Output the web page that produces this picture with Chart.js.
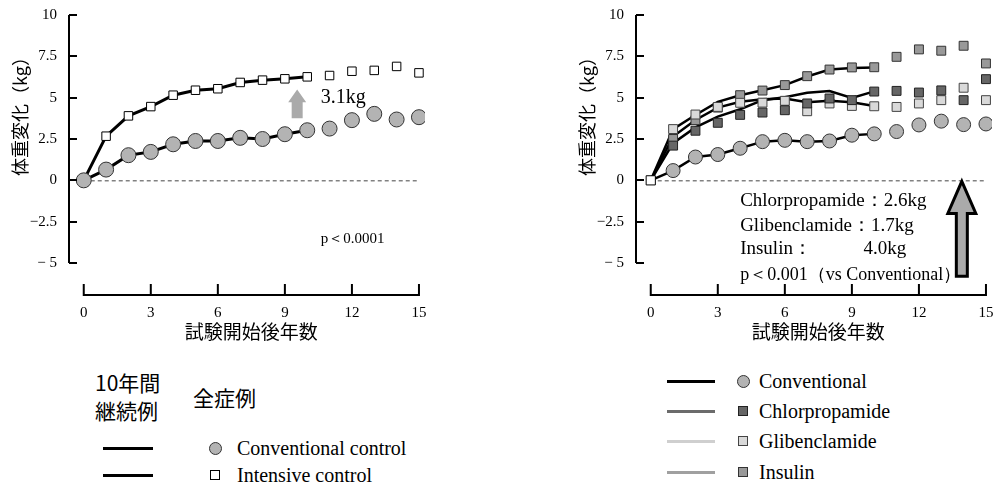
<!DOCTYPE html>
<html>
<head>
<meta charset="utf-8">
<script src="https://cdn.jsdelivr.net/npm/chart.js@4.4.0/dist/chart.umd.min.js"></script>
<style>
  body { margin: 0; background: #fff; width: 998px; height: 485px; position: relative; overflow: hidden; }
  canvas { position: absolute; top: 0; }
  #left { left: 0; }
  #right { left: 567px; }
  .t { position: absolute; white-space: nowrap; color: #000; }
  .jp { font-family: "Noto Sans CJK JP", sans-serif; font-size: 21px; line-height: 28px; }
  .en { font-family: "Liberation Serif", serif; font-size: 20px; line-height: 24px; }
  .ln { position: absolute; height: 3px; }
  .mk { position: absolute; box-sizing: border-box; }
</style>
</head>
<body>
<canvas id="left" width="440" height="345"></canvas>
<canvas id="right" width="431" height="345"></canvas>

<!-- left legend -->
<div class="t jp" style="left:95px;top:368px">10年間<br>継続例</div>
<div class="t jp" style="left:193px;top:383px">全症例</div>
<div class="ln" style="left:103px;top:447px;width:50px;background:#000"></div>
<div class="ln" style="left:103px;top:474px;width:50px;background:#000"></div>
<div class="mk" style="left:209px;top:442px;width:13px;height:13px;border-radius:50%;background:#b3b3b3;border:1px solid #333"></div>
<div class="mk" style="left:210px;top:470px;width:10px;height:10px;background:#fff;border:1px solid #000"></div>
<div class="t en" style="left:237px;top:436px">Conventional control</div>
<div class="t en" style="left:237px;top:463px">Intensive control</div>

<!-- right legend -->
<div class="ln" style="left:667px;top:380px;width:48px;background:#000"></div>
<div class="ln" style="left:667px;top:410px;width:48px;background:#6b6b6b"></div>
<div class="ln" style="left:667px;top:440px;width:48px;background:#cfcfcf"></div>
<div class="ln" style="left:667px;top:471px;width:48px;background:#a0a0a0"></div>
<div class="mk" style="left:737px;top:375px;width:13px;height:13px;border-radius:50%;background:#b3b3b3;border:1px solid #333"></div>
<div class="mk" style="left:738px;top:406px;width:10px;height:10px;background:#666;border:1px solid #222"></div>
<div class="mk" style="left:738px;top:436px;width:10px;height:10px;background:#d9d9d9;border:1px solid #444"></div>
<div class="mk" style="left:738px;top:467px;width:10px;height:10px;background:#999;border:1px solid #333"></div>
<div class="t en" style="left:759px;top:369px">Conventional</div>
<div class="t en" style="left:759px;top:399px">Chlorpropamide</div>
<div class="t en" style="left:759px;top:429px">Glibenclamide</div>
<div class="t en" style="left:759px;top:460px">Insulin</div>

<script>
// axes
const xTicks = [0, 3, 6, 9, 12, 15];
const yTicks = [-5, -2.5, 0, 2.5, 5, 7.5, 10];
const yTickLabels = ['− 5', '−2.5', '0', '2.5', '5', '7.5', '10'];
const xTitle = '試験開始後年数';
const yTitle = '体重変化（kg）';

// left panel: all cases (markers) and 10-year cohort (lines)
const years = [0, 1, 2, 3, 4, 5, 6, 7, 8, 9, 10, 11, 12, 13, 14, 15];
const lineYears = [0, 1, 2, 3, 4, 5, 6, 7, 8, 9, 10];
const convAll = [0, 0.65, 1.52, 1.72, 2.18, 2.38, 2.38, 2.57, 2.5, 2.79, 3.03, 3.13, 3.64, 4.02, 3.68, 3.82];
const intAll = [0, 2.67, 3.9, 4.46, 5.15, 5.45, 5.54, 5.92, 6.06, 6.14, 6.26, 6.34, 6.6, 6.65, 6.89, 6.5];
const conv10 = [0, 0.65, 1.52, 1.72, 2.18, 2.38, 2.38, 2.57, 2.5, 2.79, 3.03];
const int10 = [0, 2.67, 3.9, 4.46, 5.15, 5.45, 5.54, 5.92, 6.06, 6.14, 6.26];

// right panel
const startYear = [0];
const startValue = [0];
const markerYears = [1, 2, 3, 4, 5, 6, 7, 8, 9, 10, 11, 12, 13, 14, 15];
const convMk = [0.59, 1.41, 1.56, 1.94, 2.34, 2.42, 2.34, 2.38, 2.73, 2.81, 2.95, 3.35, 3.58, 3.37, 3.41];
const chlorMk = [2.1, 3.0, 3.48, 3.96, 4.1, 4.24, 4.65, 4.95, 4.85, 5.37, 5.41, 5.31, 5.44, 4.85, 6.12];
const glibMk = [3.1, 3.98, 4.44, 4.69, 4.7, 4.81, 4.18, 4.65, 4.5, 4.48, 4.44, 4.65, 4.85, 5.6, 4.85];
const insMk = [2.5, 3.64, 4.4, 5.15, 5.43, 5.76, 6.3, 6.7, 6.83, 6.84, 7.47, 7.92, 7.84, 8.14, 7.07];
const convLine = [0, 0.59, 1.41, 1.56, 1.94, 2.34, 2.42, 2.34, 2.38, 2.73, 2.81];
const chlorLine = [0, 2.25, 3.2, 3.85, 4.3, 4.85, 5.02, 5.3, 5.4, 4.98, 5.38];
const glibLine = [0, 2.65, 3.65, 4.4, 4.75, 4.9, 4.95, 4.72, 4.82, 4.72, 4.5];
const insLine = [0, 3.1, 3.95, 4.75, 5.15, 5.45, 5.76, 6.28, 6.7, 6.8, 6.82];

const pts = (xs, ys) => xs.map((x, i) => ({ x, y: ys[i] }));

function markers(xs, ys, style, radius, fill, border) {
  return {
    data: pts(xs, ys), showLine: false, pointStyle: style, pointRadius: radius,
    pointBackgroundColor: fill, pointBorderColor: border, pointBorderWidth: 1
  };
}
function line(xs, ys, width) {
  return { data: pts(xs, ys), borderColor: '#000', borderWidth: width, pointRadius: 0, tension: 0 };
}

// scale paddings include ticks.padding, which would shrink the plot area
function noPad(s) {
  s.paddingTop = s.paddingBottom = s.paddingLeft = s.paddingRight = 0;
}

const axesPlugin = {
  id: 'axesPlugin',
  beforeDatasetsDraw(chart) {
    const { ctx, scales: { x, y } } = chart;
    ctx.save();
    ctx.strokeStyle = '#444';
    ctx.lineWidth = 1;
    ctx.setLineDash([4, 3]);
    ctx.beginPath();
    ctx.moveTo(x.getPixelForValue(0), y.getPixelForValue(0) + 0.5);
    ctx.lineTo(x.getPixelForValue(15), y.getPixelForValue(0) + 0.5);
    ctx.stroke();
    ctx.restore();
  },
  afterDraw(chart) {
    const { ctx, chartArea: a, scales: { x, y } } = chart;
    ctx.save();
    ctx.strokeStyle = '#000';
    ctx.lineWidth = 2;
    ctx.beginPath();
    ctx.moveTo(a.left, a.top);
    ctx.lineTo(a.left, a.bottom);
    yTicks.forEach(v => {
      const p = Math.round(y.getPixelForValue(v));
      ctx.moveTo(a.left, p);
      ctx.lineTo(a.left + 8, p);
    });
    const ax = a.bottom + 32;
    ctx.moveTo(x.getPixelForValue(0) - 1, ax);
    ctx.lineTo(x.getPixelForValue(15) + 1, ax);
    xTicks.forEach(v => {
      const p = x.getPixelForValue(v);
      ctx.moveTo(p, ax);
      ctx.lineTo(p, ax - 11);
    });
    ctx.stroke();

    ctx.fillStyle = '#000';
    ctx.font = '19px "Noto Sans CJK JP"';
    ctx.textAlign = 'center';
    ctx.textBaseline = 'middle';
    ctx.fillText(xTitle, x.getPixelForValue(7.5), a.bottom + 69);
    ctx.translate(20, 112);
    ctx.rotate(-Math.PI / 2);
    ctx.font = '18px "Noto Sans CJK JP"';
    ctx.fillText(yTitle, 0, 0);
    ctx.restore();
  }
};

function arrow(ctx, x, yTip, yHead, yBase, headHalf, shaftHalf) {
  ctx.beginPath();
  ctx.moveTo(x, yTip);
  ctx.lineTo(x + headHalf, yHead);
  ctx.lineTo(x + shaftHalf, yHead);
  ctx.lineTo(x + shaftHalf, yBase);
  ctx.lineTo(x - shaftHalf, yBase);
  ctx.lineTo(x - shaftHalf, yHead);
  ctx.lineTo(x - headHalf, yHead);
  ctx.closePath();
}

const leftNotes = {
  id: 'leftNotes',
  afterDatasetsDraw(chart) {
    const { ctx, scales: { x, y } } = chart;
    ctx.save();
    ctx.fillStyle = '#aaa';
    arrow(ctx, x.getPixelForValue(9.55), y.getPixelForValue(5.5), y.getPixelForValue(4.73), y.getPixelForValue(3.76), 9, 5.5);
    ctx.fill();
    ctx.fillStyle = '#000';
    ctx.textAlign = 'left';
    ctx.textBaseline = 'middle';
    ctx.font = '20px "Liberation Serif"';
    ctx.fillText('3.1kg', x.getPixelForValue(10.6), y.getPixelForValue(4.97));
    ctx.font = '15px "Liberation Serif"';
    ctx.fillText('p＜0.0001', x.getPixelForValue(10.6), y.getPixelForValue(-3.58));
    ctx.restore();
  }
};

const rightNotes = {
  id: 'rightNotes',
  afterDatasetsDraw(chart) {
    const { ctx, scales: { x, y } } = chart;
    ctx.save();
    ctx.fillStyle = '#aaa';
    ctx.strokeStyle = '#000';
    ctx.lineWidth = 3;
    ctx.lineJoin = 'miter';
    arrow(ctx, x.getPixelForValue(13.92), y.getPixelForValue(0) + 1, y.getPixelForValue(-2.0), y.getPixelForValue(-5.8), 14, 5.5);
    ctx.fill();
    ctx.stroke();
    ctx.fillStyle = '#000';
    ctx.textAlign = 'left';
    ctx.textBaseline = 'middle';
    ctx.font = '19px "Liberation Serif"';
    const tx = x.getPixelForValue(4.0);
    ctx.fillText('Chlorpropamide：2.6kg', tx, y.getPixelForValue(-1.27));
    ctx.fillText('Glibenclamide：1.7kg', tx, y.getPixelForValue(-2.79));
    ctx.fillText('Insulin：', tx, y.getPixelForValue(-4.18));
    ctx.fillText('4.0kg', x.getPixelForValue(9.52), y.getPixelForValue(-4.18));
    ctx.font = '18px "Liberation Serif"';
    ctx.fillText('p＜0.001（vs Conventional）', tx, y.getPixelForValue(-5.76));
    ctx.restore();
  }
};

function options(padRight) {
  const tickFont = { family: 'Liberation Serif', size: 15 };
  return {
    responsive: false,
    animation: false,
    layout: { autoPadding: false, padding: { top: 15, right: padRight, left: 0, bottom: 0 } },
    plugins: { legend: { display: false }, tooltip: { enabled: false } },
    scales: {
      x: {
        type: 'linear', min: -0.66, max: 15.27,
        afterBuildTicks: s => { s.ticks = xTicks.map(v => ({ value: v })); },
        afterFit: s => { s.height = 82; noPad(s); },
        grid: { display: false, drawTicks: false },
        border: { display: false },
        ticks: { padding: 41, color: '#000', font: tickFont, maxRotation: 0, autoSkip: false }
      },
      y: {
        type: 'linear', min: -5, max: 10,
        afterBuildTicks: s => { s.ticks = yTicks.map(v => ({ value: v })); },
        afterFit: s => { s.width = 69; noPad(s); },
        grid: { display: false, drawTicks: false },
        border: { display: false },
        ticks: { padding: 12, color: '#000', font: tickFont, callback: (v, i) => yTickLabels[i] }
      }
    }
  };
}

new Chart(document.getElementById('left'), {
  type: 'line',
  data: {
    datasets: [
      markers(years, convAll, 'circle', 7.5, '#b3b3b3', '#333'),
      markers(years, intAll, 'rect', 6, '#fff', '#000'),
      line(lineYears, conv10, 3),
      line(lineYears, int10, 3)
    ]
  },
  options: options(15),
  plugins: [axesPlugin, leftNotes]
});

new Chart(document.getElementById('right'), {
  type: 'line',
  data: {
    datasets: [
      markers(startYear, startValue, 'rect', 6.5, '#fff', '#000'),
      markers(markerYears, convMk, 'circle', 7, '#b3b3b3', '#333'),
      markers(markerYears, chlorMk, 'rect', 6.3, '#666', '#222'),
      markers(markerYears, glibMk, 'rect', 6.3, '#d9d9d9', '#444'),
      markers(markerYears, insMk, 'rect', 6.3, '#999', '#333'),
      line(lineYears, convLine, 2.5),
      line(lineYears, chlorLine, 2.5),
      line(lineYears, glibLine, 2.5),
      line(lineYears, insLine, 2.5)
    ]
  },
  options: options(6),
  plugins: [axesPlugin, rightNotes]
});
</script>
</body>
</html>
